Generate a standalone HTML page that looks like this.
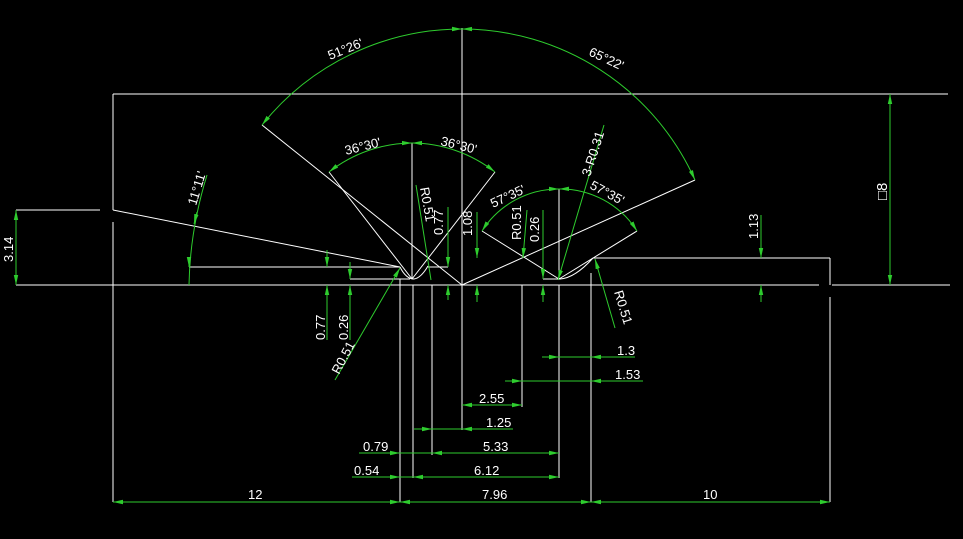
<!DOCTYPE html>
<html><head><meta charset="utf-8"><style>
html,body{margin:0;padding:0;background:#000;width:963px;height:539px;overflow:hidden}
svg{display:block}
text{font-family:"Liberation Sans","DejaVu Sans",sans-serif;font-size:13px;fill:#fff}
.w{stroke:#fff;stroke-width:1;fill:none}
.g{stroke:#2ecc2e;stroke-width:1;fill:none}
</style></head><body>
<svg width="963" height="539" viewBox="0 0 963 539">
<defs>
<marker id="a" markerWidth="10" markerHeight="6" refX="10" refY="3" orient="auto-start-reverse" markerUnits="userSpaceOnUse"><path d="M10,3 L0,0.8 L0,5.2Z" fill="#2ecc2e"/></marker>
</defs>
<g class="w">
<line x1="113" y1="94" x2="948" y2="94"/>
<line x1="113" y1="94" x2="113" y2="210"/>
<line x1="113" y1="222" x2="113" y2="502"/>
<line x1="16" y1="210" x2="100" y2="210"/>
<line x1="16" y1="285" x2="819" y2="285"/>
<line x1="832" y1="285" x2="950" y2="285"/>
<line x1="113" y1="210" x2="400" y2="267"/>
<line x1="189" y1="267" x2="400" y2="267"/>
<line x1="350" y1="279" x2="410" y2="279"/>
<path d="M400,267 Q406,279 414,279 Q421,278 428,266"/>
<line x1="428" y1="267" x2="448" y2="267"/>
<line x1="543" y1="279" x2="560" y2="279"/>
<path d="M560,279 Q575,278 593,258"/>
<line x1="593" y1="258" x2="830" y2="258"/>
<line x1="830" y1="258" x2="830" y2="285"/>
<line x1="830" y1="297" x2="830" y2="502"/>
<line x1="462" y1="28" x2="462" y2="430"/>
<line x1="412" y1="143" x2="412" y2="279"/>
<line x1="559" y1="189" x2="559" y2="279"/>
<line x1="262" y1="125" x2="462" y2="285"/>
<line x1="695" y1="180" x2="462" y2="285"/>
<line x1="329" y1="172" x2="412" y2="279"/>
<line x1="495" y1="172" x2="412" y2="279"/>
<line x1="482" y1="231" x2="559" y2="279"/>
<line x1="637" y1="231" x2="559" y2="279"/>
<line x1="400" y1="279" x2="400" y2="502"/>
<line x1="413" y1="285" x2="413" y2="478"/>
<line x1="432" y1="285" x2="432" y2="455"/>
<line x1="522" y1="285" x2="522" y2="407"/>
<line x1="559" y1="285" x2="559" y2="478"/>
<line x1="591" y1="273" x2="591" y2="502"/>
</g>
<g class="g">
<path d="M262,125 A256,256 0 0 1 462,29" marker-start="url(#a)" marker-end="url(#a)"/>
<path d="M462,29 A256,256 0 0 1 695,180" marker-start="url(#a)" marker-end="url(#a)"/>
<path d="M329,172 A136,136 0 0 1 412,143" marker-start="url(#a)" marker-end="url(#a)"/>
<path d="M412,143 A136,136 0 0 1 495,172" marker-start="url(#a)" marker-end="url(#a)"/>
<path d="M482,231 A91,91 0 0 1 559,189" marker-start="url(#a)" marker-end="url(#a)"/>
<path d="M559,189 A91,91 0 0 1 637,231" marker-start="url(#a)" marker-end="url(#a)"/>
<path d="M207,175 Q190,230 189,285"/>
<line x1="197" y1="212" x2="194" y2="224" marker-end="url(#a)"/>
<line x1="189" y1="257" x2="189" y2="267" marker-end="url(#a)"/>
<line x1="16" y1="210" x2="16" y2="285" marker-start="url(#a)" marker-end="url(#a)"/>
<line x1="327" y1="250" x2="327" y2="267" marker-end="url(#a)"/>
<line x1="327" y1="340" x2="327" y2="285" marker-end="url(#a)"/>
<line x1="350" y1="262" x2="350" y2="279" marker-end="url(#a)"/>
<line x1="350" y1="340" x2="350" y2="285" marker-end="url(#a)"/>
<line x1="448" y1="207" x2="448" y2="267" marker-end="url(#a)"/>
<line x1="448" y1="300" x2="448" y2="285" marker-end="url(#a)"/>
<line x1="477" y1="212" x2="477" y2="258" marker-end="url(#a)"/>
<line x1="477" y1="302" x2="477" y2="285" marker-end="url(#a)"/>
<line x1="543" y1="210" x2="543" y2="279" marker-end="url(#a)"/>
<line x1="543" y1="302" x2="543" y2="285" marker-end="url(#a)"/>
<line x1="761" y1="215" x2="761" y2="258" marker-end="url(#a)"/>
<line x1="761" y1="302" x2="761" y2="285" marker-end="url(#a)"/>
<line x1="890" y1="94" x2="890" y2="285" marker-start="url(#a)" marker-end="url(#a)"/>
<line x1="542" y1="357" x2="635" y2="357"/>
<line x1="542" y1="357" x2="559" y2="357" marker-end="url(#a)"/>
<line x1="635" y1="357" x2="591" y2="357" marker-end="url(#a)"/>
<line x1="505" y1="381" x2="643" y2="381"/>
<line x1="505" y1="381" x2="522" y2="381" marker-end="url(#a)"/>
<line x1="643" y1="381" x2="591" y2="381" marker-end="url(#a)"/>
<line x1="462" y1="405" x2="522" y2="405" marker-start="url(#a)" marker-end="url(#a)"/>
<line x1="414" y1="429" x2="513" y2="429"/>
<line x1="414" y1="429" x2="432" y2="429" marker-end="url(#a)"/>
<line x1="513" y1="429" x2="462" y2="429" marker-end="url(#a)"/>
<line x1="359" y1="453" x2="400" y2="453" marker-end="url(#a)"/>
<line x1="432" y1="453" x2="559" y2="453" marker-start="url(#a)" marker-end="url(#a)"/>
<line x1="400" y1="453" x2="432" y2="453"/>
<line x1="352" y1="477" x2="400" y2="477" marker-end="url(#a)"/>
<line x1="413" y1="477" x2="559" y2="477" marker-start="url(#a)" marker-end="url(#a)"/>
<line x1="400" y1="477" x2="413" y2="477"/>
<line x1="113" y1="502" x2="400" y2="502" marker-start="url(#a)" marker-end="url(#a)"/>
<line x1="400" y1="502" x2="591" y2="502" marker-start="url(#a)" marker-end="url(#a)"/>
<line x1="591" y1="502" x2="830" y2="502" marker-start="url(#a)" marker-end="url(#a)"/>
<line x1="335" y1="380" x2="400" y2="268" marker-end="url(#a)"/>
<line x1="416" y1="185" x2="431" y2="280"/>
<line x1="527" y1="210" x2="523" y2="258" marker-end="url(#a)"/>
<line x1="604" y1="125" x2="558" y2="280" marker-end="url(#a)"/>
<line x1="615" y1="328" x2="595" y2="259" marker-end="url(#a)"/>
</g>
<text transform="translate(330,60) rotate(-22)">51°26'</text>
<text transform="translate(588,55) rotate(25)">65°22'</text>
<text transform="translate(346,155) rotate(-14)">36°30'</text>
<text transform="translate(440,145) rotate(14)">36°30'</text>
<text transform="translate(493,208) rotate(-25)">57°35'</text>
<text transform="translate(589,188) rotate(28)">57°35'</text>
<text transform="translate(196,206) rotate(-73)">11°11'</text>
<text transform="translate(13,262) rotate(-90)">3.14</text>
<text transform="translate(325,340) rotate(-90)">0.77</text>
<text transform="translate(348,340) rotate(-90)">0.26</text>
<text transform="translate(443,235) rotate(-90)">0.77</text>
<text transform="translate(472,236) rotate(-90)">1.08</text>
<text transform="translate(539,242) rotate(-90)">0.26</text>
<text transform="translate(521,240) rotate(-90)">R0.51</text>
<text transform="translate(758,239) rotate(-90)">1.13</text>
<text transform="translate(887,200) rotate(-90)" style="font-size:15px">□8</text>
<text transform="translate(420,188) rotate(80)">R0.51</text>
<text transform="translate(339,375) rotate(-62)">R0.51</text>
<text transform="translate(590,177) rotate(-72)">3-R0.31</text>
<text transform="translate(614,292) rotate(73)">R0.51</text>
<text x="617" y="355">1.3</text>
<text x="615" y="379">1.53</text>
<text x="479" y="403">2.55</text>
<text x="486" y="427">1.25</text>
<text x="363" y="451">0.79</text>
<text x="483" y="451">5.33</text>
<text x="354" y="475">0.54</text>
<text x="474" y="475">6.12</text>
<text x="248" y="499">12</text>
<text x="482" y="499">7.96</text>
<text x="703" y="499">10</text>
</svg>
</body></html>
